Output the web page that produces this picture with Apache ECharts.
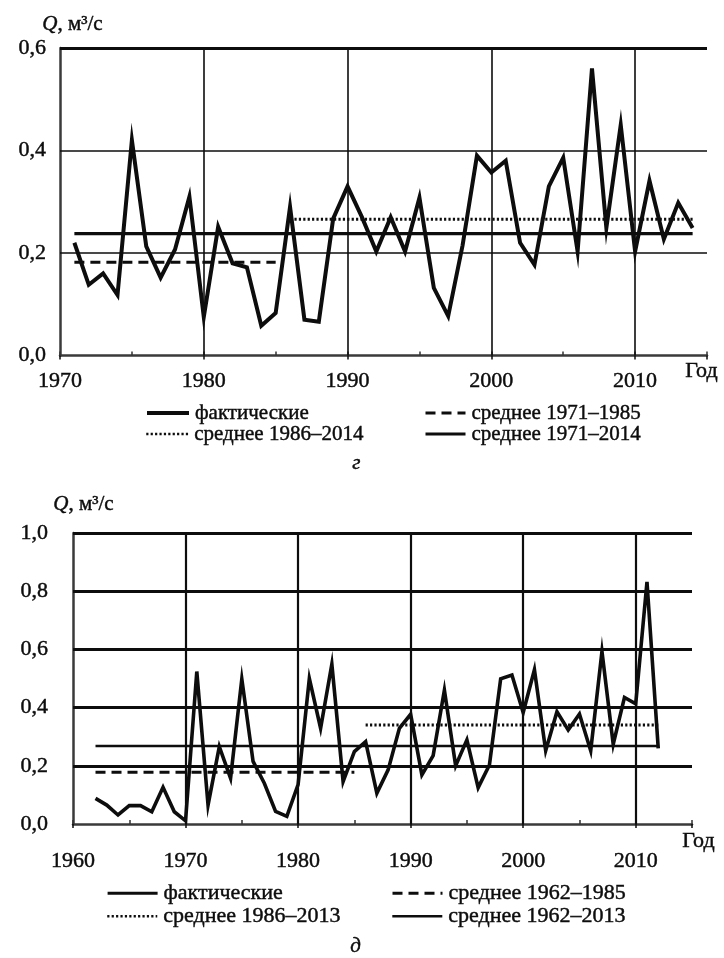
<!DOCTYPE html>
<html>
<head>
<meta charset="utf-8">
<script src="https://cdn.jsdelivr.net/npm/echarts@6/dist/echarts.min.js"></script>
<style>
html,body{margin:0;padding:0;background:#ffffff;}
#chart{width:724px;height:958px;}
</style>
</head>
<body>
<div id="chart"></div>
<script>
// ---------- Chart «г» ----------
const yearsG = [1971,1972,1973,1974,1975,1976,1977,1978,1979,1980,
                1981,1982,1983,1984,1985,1986,1987,1988,1989,1990,
                1991,1992,1993,1994,1995,1996,1997,1998,1999,2000,
                2001,2002,2003,2004,2005,2006,2007,2008,2009,2010,
                2011,2012,2013,2014];
const flowG = [0.220,0.138,0.160,0.118,0.420,0.213,0.152,0.207,0.310,0.075,
               0.251,0.180,0.172,0.058,0.083,0.290,0.070,0.066,0.267,0.330,
               0.270,0.203,0.270,0.203,0.308,0.132,0.077,0.215,0.390,0.357,
               0.380,0.220,0.177,0.330,0.386,0.203,0.560,0.249,0.450,0.203,
               0.341,0.227,0.298,0.249];
const meanNamesG = ['среднее 1971–1985','среднее 1986–2014','среднее 1971–2014'];
const meanValuesG = [0.182, 0.266, 0.238];
const meanPeriodsG = [[1971,1985],[1986,2014],[1971,2014]];
const yTicksG = [0.0, 0.2, 0.4, 0.6];
const xGridG = [1980, 1990, 2000, 2010];

// ---------- Chart «д» ----------
const yearsD = [1962,1963,1964,1965,1966,1967,1968,1969,1970,
                1971,1972,1973,1974,1975,1976,1977,1978,1979,1980,
                1981,1982,1983,1984,1985,1986,1987,1988,1989,1990,
                1991,1992,1993,1994,1995,1996,1997,1998,1999,2000,
                2001,2002,2003,2004,2005,2006,2007,2008,2009,2010,
                2011,2012];
const flowD = [0.088,0.065,0.031,0.063,0.063,0.042,0.126,0.042,0.011,
               0.524,0.065,0.266,0.157,0.498,0.215,0.140,0.043,0.026,0.135,
               0.500,0.329,0.549,0.146,0.249,0.283,0.106,0.186,0.329,0.377,
               0.169,0.235,0.460,0.200,0.289,0.125,0.203,0.499,0.512,0.383,
               0.530,0.252,0.386,0.323,0.378,0.252,0.593,0.274,0.435,0.413,
               0.832,0.260];
const meanNamesD = ['среднее 1962–1985','среднее 1986–2013','среднее 1962–2013'];
const meanValuesD = [0.178, 0.340, 0.268];
const meanPeriodsD = [[1962,1985],[1986,2012],[1962,2012]];
const yTicksD = [0.0, 0.2, 0.4, 0.6, 0.8, 1.0];
const xGridD = [1970, 1980, 1990, 2000, 2010];

const FONT = 'Liberation Serif';
const INK = '#0d0d0d';
const BOLDEN = 0.45;
const fmtY = v => v.toFixed(1).replace('.', ',');
const fmtX = v => (v % 10 === 0 ? String(v) : '');

function axesFor(grid, xmin, xmax, ymax, labelMarginX, labelMarginY) {
  const x = {
    gridIndex: grid, type: 'value', min: xmin, max: xmax, interval: 10, position: 'bottom',
    axisLine: {show: true, lineStyle: {color: '#3a3a3a', width: 2.5}},
    axisTick: {show: true, inside: false, length: 4, lineStyle: {color: INK, width: 1.5}},
    axisLabel: {show: true, margin: labelMarginX, formatter: fmtX, color: INK, fontFamily: FONT, fontSize: 22,
                textBorderColor: INK, textBorderWidth: BOLDEN},
    splitLine: {show: false}
  };
  const xMinor = {
    gridIndex: grid, type: 'value', min: xmin, max: xmax, interval: 5, position: 'bottom',
    axisLine: {show: false},
    axisTick: {show: true, inside: true, length: 4, lineStyle: {color: '#333', width: 1.5}},
    axisLabel: {show: false}, splitLine: {show: false}
  };
  const y = {
    gridIndex: grid, type: 'value', min: 0, max: ymax, interval: 0.2,
    axisLine: {show: true, lineStyle: {color: '#3a3a3a', width: 2.5}},
    axisTick: {show: false},
    axisLabel: {show: true, margin: labelMarginY, formatter: fmtY, color: INK, fontFamily: FONT, fontSize: 22,
                textBorderColor: INK, textBorderWidth: BOLDEN},
    splitLine: {show: false}
  };
  return {x, xMinor, y};
}

function gridLines(xAxisIndex, yAxisIndex, xs, ys, hWidth, vWidth, topWidth) {
  const ymax = ys[ys.length - 1];
  return {
    type: 'line', xAxisIndex, yAxisIndex, data: [], z: 1, silent: true,
    markLine: {
      silent: true, symbol: ['none', 'none'], animation: false,
      label: {show: false},
      lineStyle: {color: INK, type: 'solid', width: vWidth},
      data: [
        ...xs.map(v => ({xAxis: v, lineStyle: {color: INK, type: 'solid', width: vWidth}})),
        ...ys.filter(v => v > 0).map(v => ({yAxis: v, lineStyle: {color: INK, type: 'solid', width: v === ymax ? topWidth : hWidth}}))
      ]
    }
  };
}

function meanSeries(names, values, periods, xi, yi, styles) {
  return names.map((n, i) => ({
    name: n, type: 'line', xAxisIndex: xi, yAxisIndex: yi, symbol: 'none', z: 4,
    itemStyle: {color: INK},
    data: [[periods[i][0], values[i]], [periods[i][1], values[i]]],
    lineStyle: styles[i]
  }));
}

const aG = axesFor(0, 1970, 2015, 0.6, 15, 14);
const aD = axesFor(1, 1960, 2015, 1.0, 26, 25);

const stylesG = [
  {color: INK, width: 3, type: [10, 6]},
  {color: INK, width: 3, type: [2.2, 2.2]},
  {color: INK, width: 3.2, type: 'solid'}
];
const stylesD = [
  {color: INK, width: 3, type: [10, 6]},
  {color: INK, width: 3, type: [2.2, 2.2]},
  {color: INK, width: 2.6, type: 'solid'}
];

const series = [
  gridLines(0, 0, xGridG, yTicksG, 1.6, 1.6, 2.8),
  gridLines(2, 1, xGridD, yTicksD, 2.8, 2.2, 2.8),
  {name: 'фактические', type: 'line', xAxisIndex: 0, yAxisIndex: 0, symbol: 'none', z: 5,
   itemStyle: {color: INK},
   data: yearsG.map((yr, i) => [yr, flowG[i]]),
   lineStyle: {color: INK, width: 4, join: 'miter'}},
  ...meanSeries(meanNamesG, meanValuesG, meanPeriodsG, 0, 0, stylesG),
  {name: 'фактические', type: 'line', xAxisIndex: 2, yAxisIndex: 1, symbol: 'none', z: 5,
   itemStyle: {color: INK},
   data: yearsD.map((yr, i) => [yr, flowD[i]]),
   lineStyle: {color: INK, width: 3.6, join: 'miter'}},
  ...meanSeries(meanNamesD, meanValuesD, meanPeriodsD, 2, 1, stylesD)
];

function leg(name, left, top, w, lw, size) {
  return {
    data: [name], left, top, orient: 'horizontal', padding: 0, selectedMode: false,
    itemWidth: w, itemHeight: 14,
    itemStyle: {opacity: 0},
    lineStyle: {width: lw, color: INK},
    textStyle: {color: INK, fontFamily: FONT, fontSize: size, lineHeight: 22, padding: [0, 0, 0, 1],
                textBorderColor: INK, textBorderWidth: BOLDEN}
  };
}

const legends = [
  leg('фактические', 145, 402, 42, 4, 21),
  leg(meanNamesG[0], 424, 402, 40, 3, 21),
  leg(meanNamesG[1], 145, 423, 42, 2.5, 21),
  leg(meanNamesG[2], 424, 423, 40, 3, 21),
  leg('фактические', 106, 882, 50, 3.2, 22),
  leg(meanNamesD[0], 391, 882, 50, 3, 22),
  leg(meanNamesD[1], 106, 905, 50, 2.5, 22),
  leg(meanNamesD[2], 391, 905, 50, 2.6, 22)
];

function txt(text, left, cy, size) {
  size = size || 21;
  return {
    type: 'text', left: left, top: cy - size / 2 - 1, silent: true,
    style: {text: text, fill: INK, font: size + 'px "Liberation Serif"',
            stroke: INK, lineWidth: BOLDEN,
            rich: {q: {fontStyle: 'italic', fontSize: size, fontFamily: FONT, fill: INK}}}
  };
}

const option = {
  animation: false,
  backgroundColor: '#ffffff',
  color: [INK],
  grid: [
    {left: 60, right: 17, top: 48, height: 307.5},
    {left: 73, right: 32, top: 533, height: 291}
  ],
  xAxis: [aG.x, aG.xMinor, aD.x, aD.xMinor],
  yAxis: [aG.y, aD.y],
  legend: legends,
  series: series,
  graphic: [
    txt('{q|Q}, м³/с', 42, 25, 21),
    txt('Год', 685, 372, 22),
    {type: 'text', left: 352, top: 453, silent: true,
     style: {text: 'г', fill: INK, font: 'italic 21px "Liberation Serif"', stroke: INK, lineWidth: BOLDEN}},
    txt('{q|Q}, м³/с', 53, 505, 21),
    txt('Год', 682, 842, 22),
    {type: 'text', left: 350, top: 936, silent: true,
     style: {text: 'д', fill: INK, font: 'italic 21px "Liberation Serif"', stroke: INK, lineWidth: BOLDEN}}
  ]
};

const chart = echarts.init(document.getElementById('chart'), null, {renderer: 'canvas'});
chart.setOption(option);
</script>
</body>
</html>
